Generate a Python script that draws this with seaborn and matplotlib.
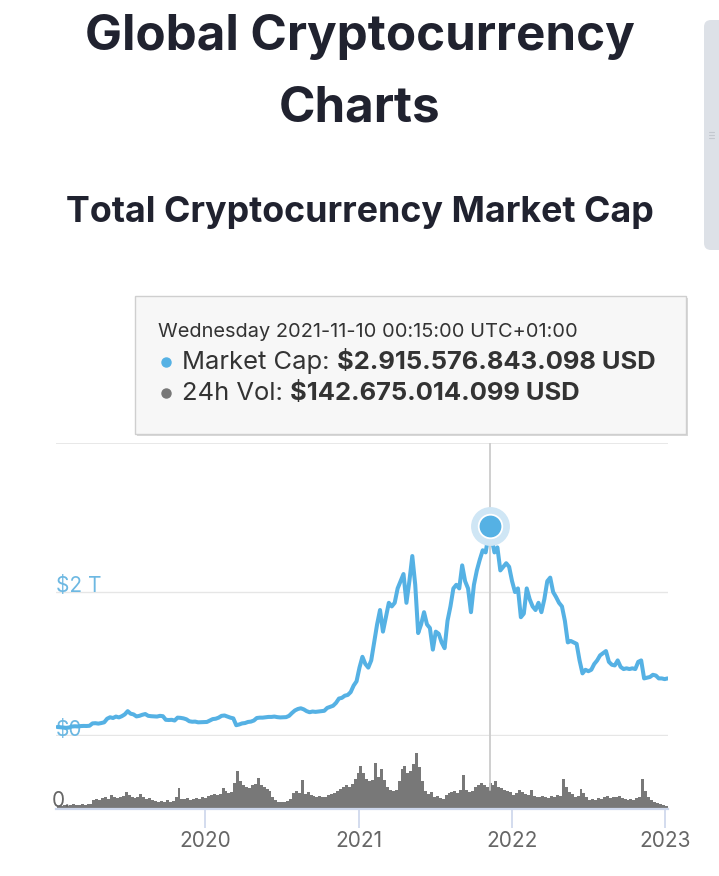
import numpy as np
import pandas as pd
import matplotlib
matplotlib.use("Agg")
import matplotlib.pyplot as plt
from matplotlib.patches import FancyBboxPatch, Rectangle
from matplotlib.lines import Line2D
from matplotlib.transforms import IdentityTransform
import seaborn as sns

# weekly total market cap (trillion USD)
mcap_2019 = [0.125, 0.122, 0.118,
             0.113, 0.118, 0.132, 0.135,
             0.133, 0.138, 0.140, 0.139, 0.142,
             0.175, 0.178, 0.172, 0.180,
             0.190, 0.240, 0.260, 0.250, 0.270,
             0.258, 0.275, 0.300, 0.345,
             0.310, 0.300, 0.272, 0.280,
             0.295, 0.305, 0.280, 0.275, 0.272,
             0.270, 0.280, 0.275, 0.225,
             0.222, 0.225, 0.215, 0.255,
             0.252, 0.245, 0.232, 0.205,
             0.198, 0.200, 0.190, 0.192, 0.195]
mcap_2020 = [0.195, 0.215, 0.235, 0.240,
             0.255, 0.280, 0.285, 0.270, 0.255,
             0.245, 0.150, 0.160, 0.175,
             0.180, 0.195, 0.200, 0.215,
             0.250, 0.255, 0.255, 0.260, 0.265,
             0.265, 0.270, 0.262, 0.258,
             0.260, 0.262, 0.280, 0.320,
             0.355, 0.375, 0.385, 0.370, 0.345,
             0.330, 0.340, 0.335, 0.340,
             0.345, 0.350, 0.390, 0.405,
             0.420, 0.460, 0.520, 0.530, 0.560,
             0.570, 0.610, 0.700, 0.760]
mcap_2021 = [0.95, 1.10, 1.00, 0.95, 1.05,
             1.30, 1.55, 1.75, 1.45,
             1.65, 1.85, 1.80, 1.85,
             2.05, 2.15, 2.25, 1.85,
             2.15, 2.50, 2.10, 1.43, 1.55,
             1.72, 1.55, 1.50, 1.20,
             1.45, 1.42, 1.30, 1.22,
             1.60, 1.80, 2.05, 2.10, 2.05,
             2.37, 2.15, 2.05, 1.72,
             2.10, 2.30, 2.45, 2.58, 2.55,
             2.80, 2.75, 2.55, 2.62,
             2.30, 2.35, 2.40, 2.35]
mcap_2022 = [2.15, 2.00, 2.05, 1.65, 1.70,
             2.05, 1.90, 1.80, 1.75,
             1.85, 1.72, 1.90, 2.15,
             2.20, 2.00, 1.93, 1.85,
             1.80, 1.60, 1.30, 1.32, 1.30,
             1.28, 1.05, 0.87, 0.92,
             0.90, 0.92, 1.00, 1.05, 1.12,
             1.15, 1.18, 1.03, 0.99,
             0.98, 1.05, 0.96, 0.93,
             0.94, 0.93, 0.94, 0.93, 1.03,
             1.05, 0.80, 0.81, 0.82,
             0.85, 0.84, 0.80, 0.80]
mcap_2023 = [0.79, 0.80]

# weekly 24h volume (billion USD)
vol_2019 = [17, 17, 22, 17, 22, 28, 22, 22, 28, 22, 28, 28,
            50, 55, 50, 60, 66, 55, 77, 66, 60,
            66, 72, 94, 77, 66, 60, 66, 83, 66, 55, 60, 50, 44,
            39, 44, 39, 50, 39, 44, 66, 116, 55,
            55, 60, 50, 55, 60, 55, 66, 60]
vol_2020 = [72, 77, 83, 77,
            83, 116, 99, 88, 94,
            143, 209, 154, 132,
            121, 116, 132, 138,
            171, 132, 121, 110, 99,
            66, 50, 39, 39,
            39, 44, 55, 88,
            99, 88, 160, 83, 94,
            77, 72, 66, 72,
            66, 66, 77, 83,
            88, 99, 110, 121, 132,
            121, 138, 165, 198]
vol_2021 = [237, 198, 165, 154, 160,
            253, 176, 220, 160,
            121, 105, 99, 105,
            154, 220, 237, 198,
            209, 248, 308, 231, 154,
            99, 83, 94, 66,
            72, 60, 55, 77,
            88, 94, 99, 88, 105,
            187, 105, 94, 99,
            121, 132, 143, 132, 121,
            143, 132, 154, 121,
            116, 105, 99, 94]
vol_2022 = [77, 88, 105, 94, 83,
            77, 105, 72, 66,
            66, 72, 66, 60,
            72, 66, 77, 72,
            165, 121, 94, 83, 66,
            72, 110, 88, 66,
            50, 55, 50, 60, 55,
            66, 72, 60, 66,
            66, 72, 60, 55,
            50, 55, 50, 60, 66,
            165, 99, 66, 50,
            39, 33, 28, 22]
vol_2023 = [17, 17]

year_ticks = ['2020-01-01', '2021-01-01', '2022-01-01', '2023-01-01']
year_labels = ['2020', '2021', '2022', '2023']
cap_ticks = [0, 2]
cap_labels = ['$0', '$2 T']

hover_date = '2021-11-10'
hover_header = 'Wednesday 2021-11-10 00:15:00 UTC+01:00'
hover_mcap_usd = 2915576843098
hover_vol_usd = 142675014099

BLUE = '#55b1e4'
GRAY_BAR = '#787878'
W, H = 719, 876

dates = pd.date_range('2019-01-13', periods=209, freq='7D')
df = pd.DataFrame({
    'date': dates,
    'mcap': mcap_2019 + mcap_2020 + mcap_2021 + mcap_2022 + mcap_2023,
    'vol': vol_2019 + vol_2020 + vol_2021 + vol_2022 + vol_2023,
})

sns.set_theme(style='white')
plt.rcParams['font.family'] = ['Inter', 'DejaVu Sans']


def fx(px):
    return px / W


def fy(py):
    return 1 - py / H


fig = plt.figure(figsize=(W / 100, H / 100), dpi=100)
fig.patch.set_facecolor('white')

# titles
fig.text(fx(360), fy(50), 'Global Cryptocurrency', ha='center', va='baseline',
         fontsize=35.5, fontweight='bold', color='#20222f')
fig.text(fx(360), fy(122), 'Charts', ha='center', va='baseline',
         fontsize=35.5, fontweight='bold', color='#20222f')
fig.text(fx(360), fy(222), 'Total Cryptocurrency Market Cap', ha='center', va='baseline',
         fontsize=25.8, fontweight='bold', color='#20222f')

xmin, xmax = pd.Timestamp('2019-01-10'), pd.Timestamp('2023-01-09')
hover_dt = pd.Timestamp(hover_date)

# market cap panel
ax = fig.add_axes([fx(56), fy(736), fx(668) - fx(56), fy(443) - fy(736)])
ax.set_xlim(xmin, xmax)
ax.set_ylim(0, 4.07)
ax.axhline(4.07, color='#e6e6e6', lw=1.3, zorder=0)
ax.axhline(2, color='#e6e6e6', lw=1.0, zorder=0)
ax.axhline(0, color='#e6e6e6', lw=2.4, zorder=0)
ax.axvline(hover_dt, color='#cccccc', lw=1.3, zorder=1)
sns.lineplot(data=df, x='date', y='mcap', ax=ax, color=BLUE, linewidth=2.9, zorder=3)
ax.lines[-1].set_solid_joinstyle('round')
ax.plot([hover_dt], [hover_mcap_usd / 1e12], 'o', ms=28, color='#cfe6f5',
        mec='none', clip_on=False, zorder=4)
ax.plot([hover_dt], [hover_mcap_usd / 1e12], 'o', ms=17, color=BLUE,
        mec='white', mew=1.3, clip_on=False, zorder=5)
for val, lab in zip(cap_ticks, cap_labels):
    ax.text(0, val, lab, transform=ax.get_yaxis_transform(), ha='left', va='baseline',
            fontsize=15, color='#6db8e2', zorder=2)
ax.set_xticks([])
ax.set_yticks([])
ax.set_xlabel('')
ax.set_ylabel('')
for s in ax.spines.values():
    s.set_visible(False)
ax.patch.set_alpha(0)

# volume panel
axv = fig.add_axes([fx(56), fy(809), fx(668) - fx(56), fy(736) - fy(809)])
axv.set_xlim(xmin, xmax)
axv.set_ylim(0, 73 * 5.5)
axv.bar(df['date'], df['vol'], width=7, align='edge', color=GRAY_BAR, linewidth=0)
axv.axvline(hover_dt, ymin=(809 - 790) / 73, ymax=1, color='#cccccc', lw=1.3)
axv.set_xticks(pd.to_datetime(year_ticks))
axv.set_xticklabels(year_labels)
axv.tick_params(axis='x', bottom=True, length=13.5, width=1.2, color='#ccd6eb',
                labelsize=15, labelcolor='#666666', pad=2)
axv.set_yticks([])
axv.set_xlabel('')
axv.set_ylabel('')
for name, s in axv.spines.items():
    s.set_visible(name == 'bottom')
axv.spines['bottom'].set_color('#ccd6eb')
axv.spines['bottom'].set_linewidth(1.6)
axv.patch.set_alpha(0)
fig.text(fx(52), fy(807), '0.', ha='left', va='baseline', fontsize=15, color='#666666')

# tooltip
px = IdentityTransform()
fig.add_artist(Rectangle((137, H - 436), 551, 138, transform=px,
                         facecolor='#d9d9d9', edgecolor='none', zorder=8))
fig.add_artist(Rectangle((135, H - 434), 551, 138, transform=px,
                         facecolor='#f7f7f7', edgecolor='#cfcfcf', lw=1, zorder=9))
fig.text(fx(158), fy(337), hover_header, ha='left', va='baseline', fontsize=14.4,
         color='#333333', zorder=10)
rows = [('Market Cap: ', f"${hover_mcap_usd:,.0f} USD".replace(',', '.'), BLUE, 369),
        ('24h Vol: ', f"${hover_vol_usd:,.0f} USD".replace(',', '.'), '#777777', 400)]
fig.canvas.draw()
renderer = fig.canvas.get_renderer()
for label, value, dot_color, base in rows:
    fig.add_artist(Line2D([fx(166)], [fy(base - 7)], marker='o', ms=6.5, color=dot_color,
                          transform=fig.transFigure, zorder=10))
    t = fig.text(fx(182), fy(base), label, ha='left', va='baseline', fontsize=18.4,
                 color='#333333', zorder=10)
    x1 = t.get_window_extent(renderer).x1
    fig.text(x1 / W, fy(base), value, ha='left', va='baseline', fontsize=18.4,
             fontweight='bold', color='#333333', zorder=10)

# page scrollbar
fig.add_artist(FancyBboxPatch((704, H - 250), 22, 230, transform=px,
                              boxstyle='round,pad=0,rounding_size=7',
                              facecolor='#dde1e7', edgecolor='none', zorder=8))
for dy in (0, 3, 6):
    fig.add_artist(Line2D([709, 714], [H - 132 - dy, H - 132 - dy], transform=px,
                          color='#c3c8cf', lw=0.8, zorder=9))

fig.savefig('out.png', dpi=100, facecolor='white')
